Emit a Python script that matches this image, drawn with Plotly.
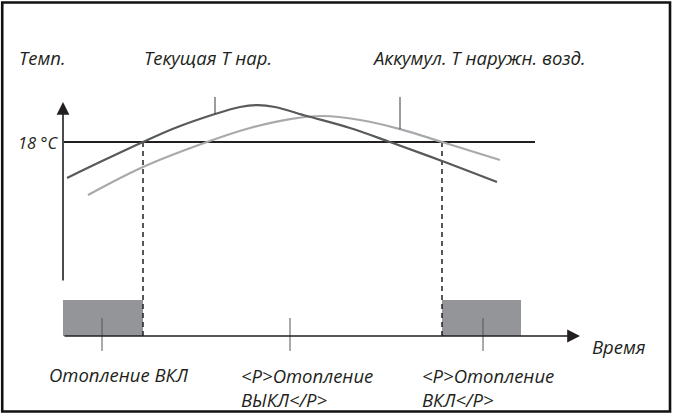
import plotly.graph_objects as go

# Time in hours (x), temperature in °C (y)
t_current = [0.2, 1.85, 4.0, 5.6, 7.6, 8.85, 9.75, 10.6, 12.2, 14.35, 16.35, 18.95, 21.7]
T_current = [14.66, 16.14, 18.0, 19.3, 20.6, 21.25, 21.43, 21.25, 20.41, 19.3, 18.0, 16.24, 14.29]

t_accum = [1.25, 4.0, 7.2, 9.35, 11.35, 13.0, 14.85, 16.85, 18.95, 21.85]
T_accum = [13.08, 15.68, 18.0, 19.3, 20.13, 20.41, 20.04, 19.2, 18.0, 16.33]

setpoint = 18.0
line_start, line_end = 0.05, 23.6

# Heating ON periods (start, end) and the bar height
heat_on = [(0.0, 4.0), (18.95, 22.9)]
bar_height = 3.34

# Axis extents
x_axis_end = 25.85
y_axis_bottom, y_axis_top = 5.01, 21.71

# Leader ticks: upper ones for curve labels, lower ones for heating states
upper_ticks_t = [7.6, 16.85]
upper_ticks_bottom = [20.6, 19.2]
upper_ticks_top = 22.18
lower_ticks_t = [1.95, 11.35, 21.0]
lower_tick_range = (1.67, -1.39)

curve_labels = ["Текущая Т нар.", "Аккумул. Т наружн. возд."]
state_labels = ["Отопление ВКЛ", "&lt;P&gt;Отопление<br>ВЫКЛ&lt;/P&gt;", "&lt;P&gt;Отопление<br>ВКЛ&lt;/P&gt;"]

DARK = "#58595b"
LIGHT = "#a7a9ac"
INK = "#231f20"
BAR = "#939598"
FONT = dict(family="Open Sans", size=18.5, color=INK, style="italic")

fig = go.Figure()

# Heating ON bars
for a, b in heat_on:
    fig.add_trace(go.Scatter(x=[a, b, b, a, a], y=[0, 0, bar_height, bar_height, 0],
                             fill="toself", fillcolor=BAR, mode="none",
                             hoverinfo="skip", showlegend=False))

# Dashed switch lines at the setpoint crossings
for a in [heat_on[0][1], heat_on[1][0]]:
    fig.add_trace(go.Scatter(x=[a, a], y=[0, setpoint], mode="lines",
                             line=dict(color=INK, width=1.5, dash="5px,4px"),
                             hoverinfo="skip", showlegend=False))

# Setpoint line
fig.add_trace(go.Scatter(x=[line_start, line_end], y=[setpoint, setpoint], mode="lines",
                         line=dict(color=INK, width=1.8), hoverinfo="skip", showlegend=False))

# Temperature curves
fig.add_trace(go.Scatter(x=t_accum, y=T_accum, mode="lines", line_shape="spline",
                         line=dict(color=LIGHT, width=2.2), hoverinfo="skip", showlegend=False))
fig.add_trace(go.Scatter(x=t_current, y=T_current, mode="lines", line_shape="spline",
                         line=dict(color=DARK, width=2.2), hoverinfo="skip", showlegend=False))

# Leader ticks
for tx, tb in zip(upper_ticks_t, upper_ticks_bottom):
    fig.add_trace(go.Scatter(x=[tx, tx], y=[tb, upper_ticks_top], mode="lines",
                             line=dict(color="#3a3a3a", width=1), hoverinfo="skip", showlegend=False))
for tx in lower_ticks_t:
    fig.add_trace(go.Scatter(x=[tx, tx], y=list(lower_tick_range), mode="lines",
                             line=dict(color="#555", width=1), hoverinfo="skip", showlegend=False))

# Axes with arrowheads
fig.add_annotation(x=x_axis_end, y=0, ax=0, ay=0, xref="x", yref="y", axref="x", ayref="y",
                   showarrow=True, arrowhead=2, arrowsize=1.6, arrowwidth=1.6, arrowcolor=INK, text="")
fig.add_annotation(x=0, y=y_axis_top, ax=0, ay=y_axis_bottom, xref="x", yref="y", axref="x", ayref="y",
                   showarrow=True, arrowhead=2, arrowsize=1.6, arrowwidth=1.6, arrowcolor=INK, text="")

def label(text, x, y, font=FONT):
    fig.add_annotation(x=x, y=y, xref="x", yref="y", text=text, showarrow=False,
                       xanchor="left", yanchor="middle", align="left", font=font)

label("Темп.", -2.3, 25.85)
label(curve_labels[0], 3.95, 25.85)
label(curve_labels[1], 15.35, 25.85)
label("18 °C", -2.35, setpoint, dict(FONT, size=16.5))
label("Время", 26.35, -0.93)
label(state_labels[0], -0.8, -3.6)
label(state_labels[1], 8.8, -4.78)
label(state_labels[2], 17.85, -4.78)

# Outer frame
fig.add_shape(type="rect", xref="paper", yref="paper", x0=0.0033, x1=0.9926, y0=0.0036, y1=0.994,
              line=dict(color="#111", width=2.6), layer="above")

fig.update_layout(
    width=675, height=413, margin=dict(l=0, r=0, t=0, b=0),
    paper_bgcolor="white", plot_bgcolor="white",
    xaxis=dict(range=[-3.15, 30.6], visible=False, fixedrange=True),
    yaxis=dict(range=[-7.144, 31.175], visible=False, fixedrange=True),
)

fig.write_html("out.html", config={"displayModeBar": False})
